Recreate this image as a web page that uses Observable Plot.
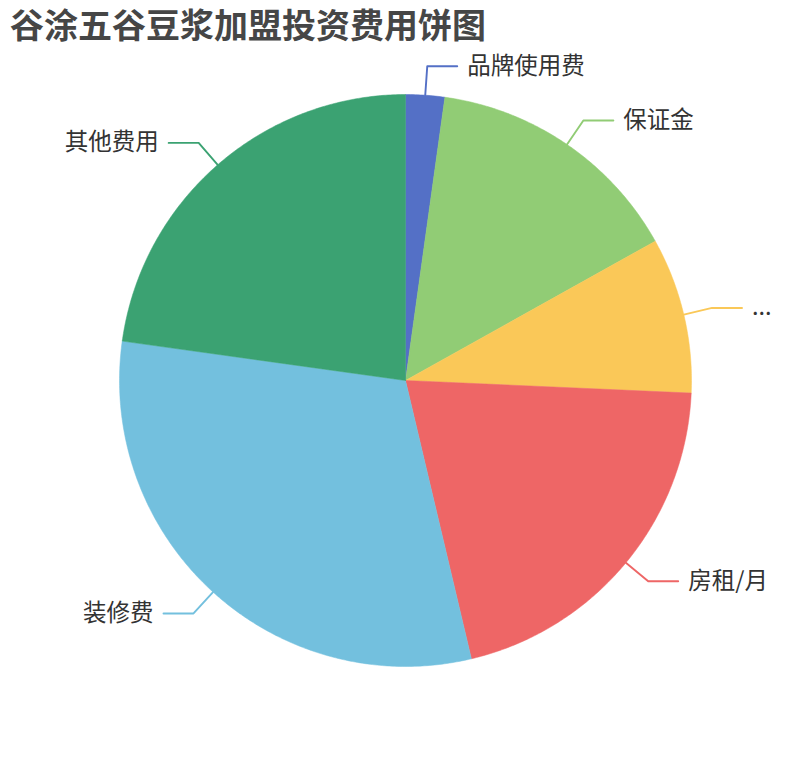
<!DOCTYPE html>
<html><head><meta charset="utf-8">
<script src="https://cdn.jsdelivr.net/npm/d3@7"></script>
<script src="https://cdn.jsdelivr.net/npm/@observablehq/plot@0.6"></script>
<style>
body{margin:0;background:#fff;font-family:"Noto Sans CJK SC","Noto Sans",sans-serif;}
#title{height:48px;line-height:48px;padding-left:10px;font-size:34px;font-weight:bold;color:#464646;white-space:nowrap;overflow:visible;}
</style></head><body>
<div id="title">谷涂五谷豆浆加盟投资费用饼图</div>
<div id="chart"></div>
<script>
const categories = ["品牌使用费", "保证金", "...", "房租/月", "装修费", "其他费用"];
const values = [2.2, 14.7, 8.8, 20.6, 30.9, 22.8];
const colors = ["#5470c6", "#91cc75", "#fac858", "#ee6666", "#73c0de", "#3ba272"];

const W = 810, H = 712, R = 286, cx = 405, cy = 332;
const total = d3.sum(values);
let acc = 0;
const slices = categories.map((name, i) => {
  const a0 = acc / total * 2 * Math.PI;
  acc += values[i];
  const a1 = acc / total * 2 * Math.PI;
  return {name, value: values[i], color: colors[i], a0, a1, mid: (a0 + a1) / 2};
});

function slicePoints(s) {
  const pts = [{x: 0, y: 0}];
  const n = Math.max(2, Math.ceil((s.a1 - s.a0) / (Math.PI / 360)));
  for (let k = 0; k <= n; k++) {
    const a = s.a0 + (s.a1 - s.a0) * k / n;
    pts.push({x: Math.sin(a), y: Math.cos(a)});
  }
  pts.push({x: 0, y: 0});
  return pts;
}

const len1 = 29 / R, len2 = 30 / R;
const labelData = slices.map(s => {
  const right = s.mid < Math.PI;
  const bx = Math.sin(s.mid) * (1 + len1), by = Math.cos(s.mid) * (1 + len1);
  const cxp = bx + (right ? len2 : -len2);
  return {
    ...s, right,
    line: [{x: Math.sin(s.mid), y: Math.cos(s.mid)}, {x: bx, y: by}, {x: cxp, y: by}],
    tx: cxp, ty: by
  };
});

const marks = [];
slices.forEach(s => {
  marks.push(Plot.line(slicePoints(s), {x: "x", y: "y", fill: s.color, stroke: s.color, strokeWidth: 0.5, curve: "linear"}));
});
labelData.forEach(l => {
  marks.push(Plot.line(l.line, {x: "x", y: "y", stroke: l.color, strokeWidth: 1.9, curve: "linear"}));
});
marks.push(Plot.text(labelData.filter(d => d.right), {
  x: "tx", y: "ty", text: "name", textAnchor: "start", dx: 10, fontSize: 23.5, fill: "#333",
  fontFamily: "Noto Sans CJK SC"
}));
marks.push(Plot.text(labelData.filter(d => !d.right), {
  x: "tx", y: "ty", text: "name", textAnchor: "end", dx: -10, fontSize: 23.5, fill: "#333",
  fontFamily: "Noto Sans CJK SC"
}));

const chart = Plot.plot({
  width: W, height: H,
  marginTop: 0, marginBottom: 0, marginLeft: 0, marginRight: 0,
  x: {domain: [-cx / R, (W - cx) / R], axis: null},
  y: {domain: [-(H - cy) / R, cy / R], axis: null},
  style: {background: "#fff", overflow: "visible"},
  marks
});
document.getElementById("chart").appendChild(chart);
</script>
</body></html>
